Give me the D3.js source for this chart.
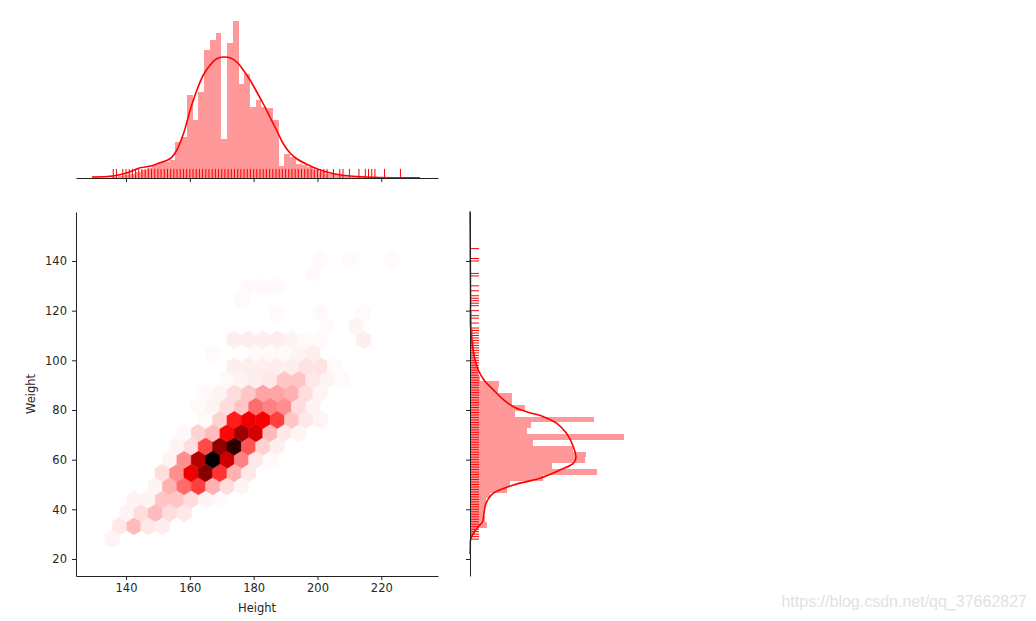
<!DOCTYPE html>
<html>
<head>
<meta charset="utf-8">
<script src="https://cdn.jsdelivr.net/npm/d3@7"></script>
<style>
body { margin: 0; background: #fff; }
text { font-family: "DejaVu Sans", sans-serif; }
</style>
</head>
<body>
<div id="chart"></div>
<script>
// hexbin cells, one row per weight centre (kg)
const hexWeight = [27.9, 33.3, 38.6, 44.0, 49.4, 54.7, 60.1, 65.4, 70.8, 76.1, 81.5,
    86.8, 92.2, 97.6, 102.9, 108.3, 113.6, 119.0, 124.3, 129.7, 135.0, 140.4];
const hexHeight = [
    [135.7],
    [138.0, 142.5, 146.9, 151.4],
    [140.2, 144.7, 149.2, 153.7, 158.2],
    [142.5, 146.9, 151.4, 155.9, 160.4, 164.9, 169.4],
    [149.2, 153.7, 158.2, 162.7, 167.2, 171.7, 176.2],
    [151.4, 155.9, 160.4, 164.9, 169.4, 173.9, 178.4],
    [153.7, 158.2, 162.7, 167.2, 171.7, 176.2, 180.7, 185.1],
    [155.9, 160.4, 164.9, 169.4, 173.9, 178.4, 182.9, 187.4],
    [158.2, 162.7, 167.2, 171.7, 176.2, 180.7, 185.1, 189.6, 194.1],
    [164.9, 169.4, 173.9, 178.4, 182.9, 187.4, 191.9, 196.4, 200.9],
    [162.7, 167.2, 171.7, 176.2, 180.7, 185.1, 189.6, 194.1, 198.6],
    [164.9, 169.4, 173.9, 178.4, 182.9, 187.4, 191.9, 196.4, 200.9],
    [171.7, 176.2, 180.7, 185.1, 189.6, 194.1, 198.6, 203.1, 207.6],
    [173.9, 178.4, 182.9, 187.4, 191.9, 196.4, 200.9, 205.4],
    [167.2, 180.7, 185.1, 189.6, 194.1, 198.6],
    [173.9, 178.4, 182.9, 187.4, 191.9, 196.4, 200.9, 214.4],
    [203.1, 212.1],
    [187.4, 200.9, 214.4],
    [176.2],
    [178.4, 182.9, 187.4],
    [198.6],
    [200.9, 209.9, 223.3]
];
const hexCount = [
    [2],
    [4, 12, 4, 3],
    [2, 6, 12, 6, 4],
    [2, 2, 10, 10, 6, 2, 1],
    [2, 14, 26, 34, 14, 6, 2],
    [6, 20, 48, 66, 36, 14, 4],
    [2, 20, 58, 90, 54, 22, 4, 1],
    [2, 6, 32, 64, 82, 30, 8, 3],
    [1, 8, 12, 44, 62, 52, 12, 4, 2],
    [1, 8, 40, 48, 46, 34, 10, 4, 2],
    [1, 2, 6, 10, 26, 22, 20, 6, 2],
    [1, 2, 6, 10, 16, 16, 14, 6, 2],
    [1, 2, 3, 4, 10, 10, 4, 2, 1],
    [3, 3, 3, 3, 3, 5, 5, 1],
    [1, 1, 1, 1, 2, 3],
    [3, 3, 3, 3, 2, 1, 1, 3],
    [1, 2],
    [1, 1, 1],
    [1],
    [1, 1, 1],
    [1],
    [1, 1, 1]
];
// hex grid step (cm, kg)
const hexStep = [4.494, 10.71];

// marginal histograms (density), 50 bins each
const heightBinStart = 135.7, heightBinWidth = 1.798;
const heightHist = [.0004, .0007, .0011, .0017, .0024, .0033, .0041, .0051, .0064, .0064,
    .0071, .0144, .0164, .0331, .0231, .0344, .0511, .0553, .0580, .0157,
    .0540, .0628, .0377, .0415, .0284, .0311, .0284, .0281, .0231, .0047,
    .0097, .0084, .0057, .0051, .0044, .0031, .0024, .0017, .0015, .0011,
    .0008, .0006, .0006, .0005, .0005, .0005, .0004, .0004, .0003, .0004];
const weightBinStart = 27.9, weightBinWidth = 2.356;
const weightHist = [.0007, .0018, .0060, .0053, .0049, .0053, .0056, .0070, .0130, .0140,
    .0256, .0445, .0287, .0403, .0406, .0361, .0221, .0539, .0200, .0214,
    .0434, .0158, .0193, .0147, .0147, .0098, .0102, .0035, .0028, .0025,
    .0021, .0018, .0014, .0014, .0011, .0011, .0007, .0007, .0007, .0005,
    .0004, .0004, .0004, .0002, .0002, .0002, .0000, .0002, .0000, .0002];

// kde curves
const heightKdeX = [129.3, 136.0, 140.2, 144.4, 147.5, 150.7, 153.8, 155.9, 158.0, 160.1, 162.2,
    164.2, 166.3, 168.4, 170.5, 172.6, 174.7, 176.8, 178.9, 181.0, 183.0, 185.1, 187.2,
    189.3, 191.4, 193.5, 196.6, 199.8, 202.9, 206.0, 210.2, 215.4, 223.8, 232.1];
const heightKdeY = [.0004, .0008, .0020, .0041, .0047, .0061, .0077, .0111, .0177, .0271, .0351,
    .0411, .0451, .0477, .0484, .0481, .0464, .0431, .0391, .0344, .0297, .0244, .0191,
    .0137, .0100, .0077, .0055, .0037, .0024, .0015, .0008, .0004, .0001, .0001];
const weightKdeY = [160, 140, 125, 113.6, 105.5, 100.1, 96.1, 92.1, 88.1, 84.2, 81.3, 79.3,
    77.3, 74.7, 70.6, 65.2, 60.6, 58.5, 55.8, 52.5, 49.8, 46.5, 42.4, 38.4, 35.0, 33.0,
    30.3, 27.9, 25.0, 22.0];
const weightKdeX = [0, .0001, .0002, .0002, .0009, .0018, .0029, .0049, .0082, .0117, .0152,
    .0198, .0257, .0303, .0338, .0362, .0371, .0362, .0315, .0245, .0152, .0082, .0056,
    .0049, .0044, .0029, .0012, .0002, .0001, 0];

// rug values
const heightRug = [136, 137, 139, 140, 141, 142, 143, 144, 145, 146, 147, 148, 149, 150,
    151, 152, 153, 154, 155, 156, 157, 158, 159, 160, 161, 162, 163, 164, 165, 166, 167,
    168, 169, 170, 171, 172, 173, 174, 175, 176, 177, 178, 179, 180, 181, 182, 183, 184,
    185, 186, 187, 188, 189, 190, 191, 192, 193, 194, 195, 196, 197, 198, 199, 200, 201,
    202, 203, 205, 207, 208, 210, 213, 215, 216, 217, 218, 221, 226];
const weightRug = [28, 29, 30, 31, 32, 33, 34, 35, 36, 37, 38, 39, 40, 41, 42, 43, 44, 45,
    46, 47, 48, 49, 50, 51, 52, 53, 54, 55, 56, 57, 58, 59, 60, 61, 62, 63, 64, 65, 66,
    67, 68, 69, 70, 71, 72, 73, 74, 75, 76, 77, 78, 79, 80, 81, 82, 83, 84, 85, 86, 87,
    88, 89, 90, 91, 92, 93, 94, 95, 96, 97, 98, 99, 100, 101, 102, 103, 104, 105, 106,
    107, 108, 109, 110, 111, 112, 113, 115, 117, 118, 120, 122, 123, 124, 125, 126, 128,
    130, 134, 135, 140, 141, 145];

const heightTicks = [140, 160, 180, 200, 220];
const weightTicks = [20, 40, 60, 80, 100, 120, 140];

const width = 1036, height = 621;
const tickFont = "11.5px";
const inkColor = "#262626";

const svg = d3.select("#chart")
    .append("svg")
    .attr("width", width)
    .attr("height", height)
    .style("background", "#fff");

// scales
const x = d3.scaleLinear().domain([124.33, 237.77]).range([76, 438]);
const y = d3.scaleLinear().domain([13.15, 159.73]).range([576, 212]);
const topY = d3.scaleLinear().domain([0, 0.0728]).range([178, -4]);
const rightX = d3.scaleLinear().domain([0, 0.0634]).range([470, 651]);

// ---- joint hexbin ----
const cells = [];
hexWeight.forEach((w, i) => {
    hexHeight[i].forEach((h, k) => cells.push({h: h, w: w, n: hexCount[i][k]}));
});
const maxCount = d3.max(cells, d => d.n);
const color = d3.scaleSequential(t => d3.hsl(0, 1, 1 - t).toString()).domain([0, maxCount]);

function hexPath(d) {
    const sx = hexStep[0] / 2, sy = hexStep[1] / 6;
    const pts = [[d.h + sx, d.w - sy], [d.h + sx, d.w + sy], [d.h, d.w + 2 * sy],
        [d.h - sx, d.w + sy], [d.h - sx, d.w - sy], [d.h, d.w - 2 * sy]];
    return "M" + pts.map(p => x(p[0]) + "," + y(p[1])).join("L") + "Z";
}

svg.append("g")
    .selectAll("path")
    .data(cells)
    .enter()
    .append("path")
    .attr("d", hexPath)
    .attr("fill", d => color(d.n))
    .attr("stroke", d => color(d.n))
    .attr("stroke-width", 0.6);

// main axes
function styleAxis(g) {
    g.selectAll("path.domain").attr("stroke", "#222").attr("stroke-width", 1);
    g.selectAll(".tick line").attr("stroke", "#222").attr("stroke-width", 1);
    g.selectAll("text")
        .attr("fill", inkColor)
        .style("font-size", tickFont)
        .style("font-family", "DejaVu Sans");
}

svg.append("g")
    .attr("transform", `translate(0,${y.range()[0]})`)
    .call(d3.axisBottom(x).tickValues(heightTicks).tickSize(4).tickSizeOuter(0).tickPadding(4))
    .call(styleAxis);

svg.append("g")
    .attr("transform", `translate(${x.range()[0]},0)`)
    .call(d3.axisLeft(y).tickValues(weightTicks).tickSize(4).tickSizeOuter(0).tickPadding(5))
    .call(styleAxis);

svg.append("text")
    .attr("x", (x.range()[0] + x.range()[1]) / 2)
    .attr("y", 612)
    .attr("text-anchor", "middle")
    .attr("fill", inkColor)
    .style("font-size", tickFont)
    .text("Height");

svg.append("text")
    .attr("transform", `translate(35,${(y.range()[0] + y.range()[1]) / 2}) rotate(-90)`)
    .attr("text-anchor", "middle")
    .attr("fill", inkColor)
    .style("font-size", tickFont)
    .text("Weight");

// ---- top marginal: height ----
const topPanel = svg.append("g");

topPanel.selectAll("rect")
    .data(heightHist)
    .enter()
    .append("rect")
    .attr("x", (d, i) => x(heightBinStart + i * heightBinWidth))
    .attr("width", (d, i) => x(heightBinStart + (i + 1) * heightBinWidth) - x(heightBinStart + i * heightBinWidth))
    .attr("y", d => topY(d))
    .attr("height", d => topY(0) - topY(d))
    .attr("fill", "red")
    .attr("fill-opacity", 0.4)
    .attr("shape-rendering", "crispEdges");

topPanel.append("path")
    .datum(heightKdeX.map((v, i) => [v, heightKdeY[i]]))
    .attr("fill", "none")
    .attr("stroke", "red")
    .attr("stroke-width", 1.6)
    .attr("d", d3.line().x(d => x(d[0])).y(d => topY(d[1])).curve(d3.curveCatmullRom));

const topRugLen = 0.05 * (topY.range()[0] - topY.range()[1]);
topPanel.selectAll("line.rug")
    .data(heightRug)
    .enter()
    .append("line")
    .attr("class", "rug")
    .attr("x1", d => x(d)).attr("x2", d => x(d))
    .attr("y1", topY(0)).attr("y2", topY(0) - topRugLen)
    .attr("stroke", "red")
    .attr("stroke-width", 1);

topPanel.append("g")
    .attr("transform", `translate(0,${topY(0)})`)
    .call(d3.axisBottom(x).tickValues(heightTicks).tickSize(4).tickSizeOuter(0).tickFormat(""))
    .call(styleAxis);

// ---- right marginal: weight ----
const rightPanel = svg.append("g");

rightPanel.selectAll("rect")
    .data(weightHist)
    .enter()
    .append("rect")
    .attr("x", rightX(0))
    .attr("y", (d, i) => y(weightBinStart + (i + 1) * weightBinWidth))
    .attr("height", (d, i) => y(weightBinStart + i * weightBinWidth) - y(weightBinStart + (i + 1) * weightBinWidth))
    .attr("width", d => rightX(d) - rightX(0))
    .attr("fill", "red")
    .attr("fill-opacity", 0.4)
    .attr("shape-rendering", "crispEdges");

rightPanel.append("path")
    .datum(weightKdeY.map((v, i) => [weightKdeX[i], v]))
    .attr("fill", "none")
    .attr("stroke", "red")
    .attr("stroke-width", 1.6)
    .attr("d", d3.line().x(d => rightX(d[0])).y(d => y(d[1])).curve(d3.curveCatmullRom));

const rightRugLen = 0.05 * (rightX.range()[1] - rightX.range()[0]);
rightPanel.selectAll("line.rug")
    .data(weightRug)
    .enter()
    .append("line")
    .attr("class", "rug")
    .attr("y1", d => y(d)).attr("y2", d => y(d))
    .attr("x1", rightX(0)).attr("x2", rightX(0) + rightRugLen)
    .attr("stroke", "red")
    .attr("stroke-width", 1);

rightPanel.append("g")
    .attr("transform", `translate(${rightX(0)},0)`)
    .call(d3.axisLeft(y).tickValues(weightTicks).tickSize(4).tickSizeOuter(0).tickFormat(""))
    .call(styleAxis);

// watermark
svg.append("text")
    .attr("x", 1027)
    .attr("y", 607)
    .attr("text-anchor", "end")
    .attr("fill", "#e2e2e2")
    .style("font-family", "Liberation Sans, Arial, sans-serif")
    .style("font-size", "16px")
    .text("https://blog.csdn.net/qq_37662827");
</script>
</body>
</html>
